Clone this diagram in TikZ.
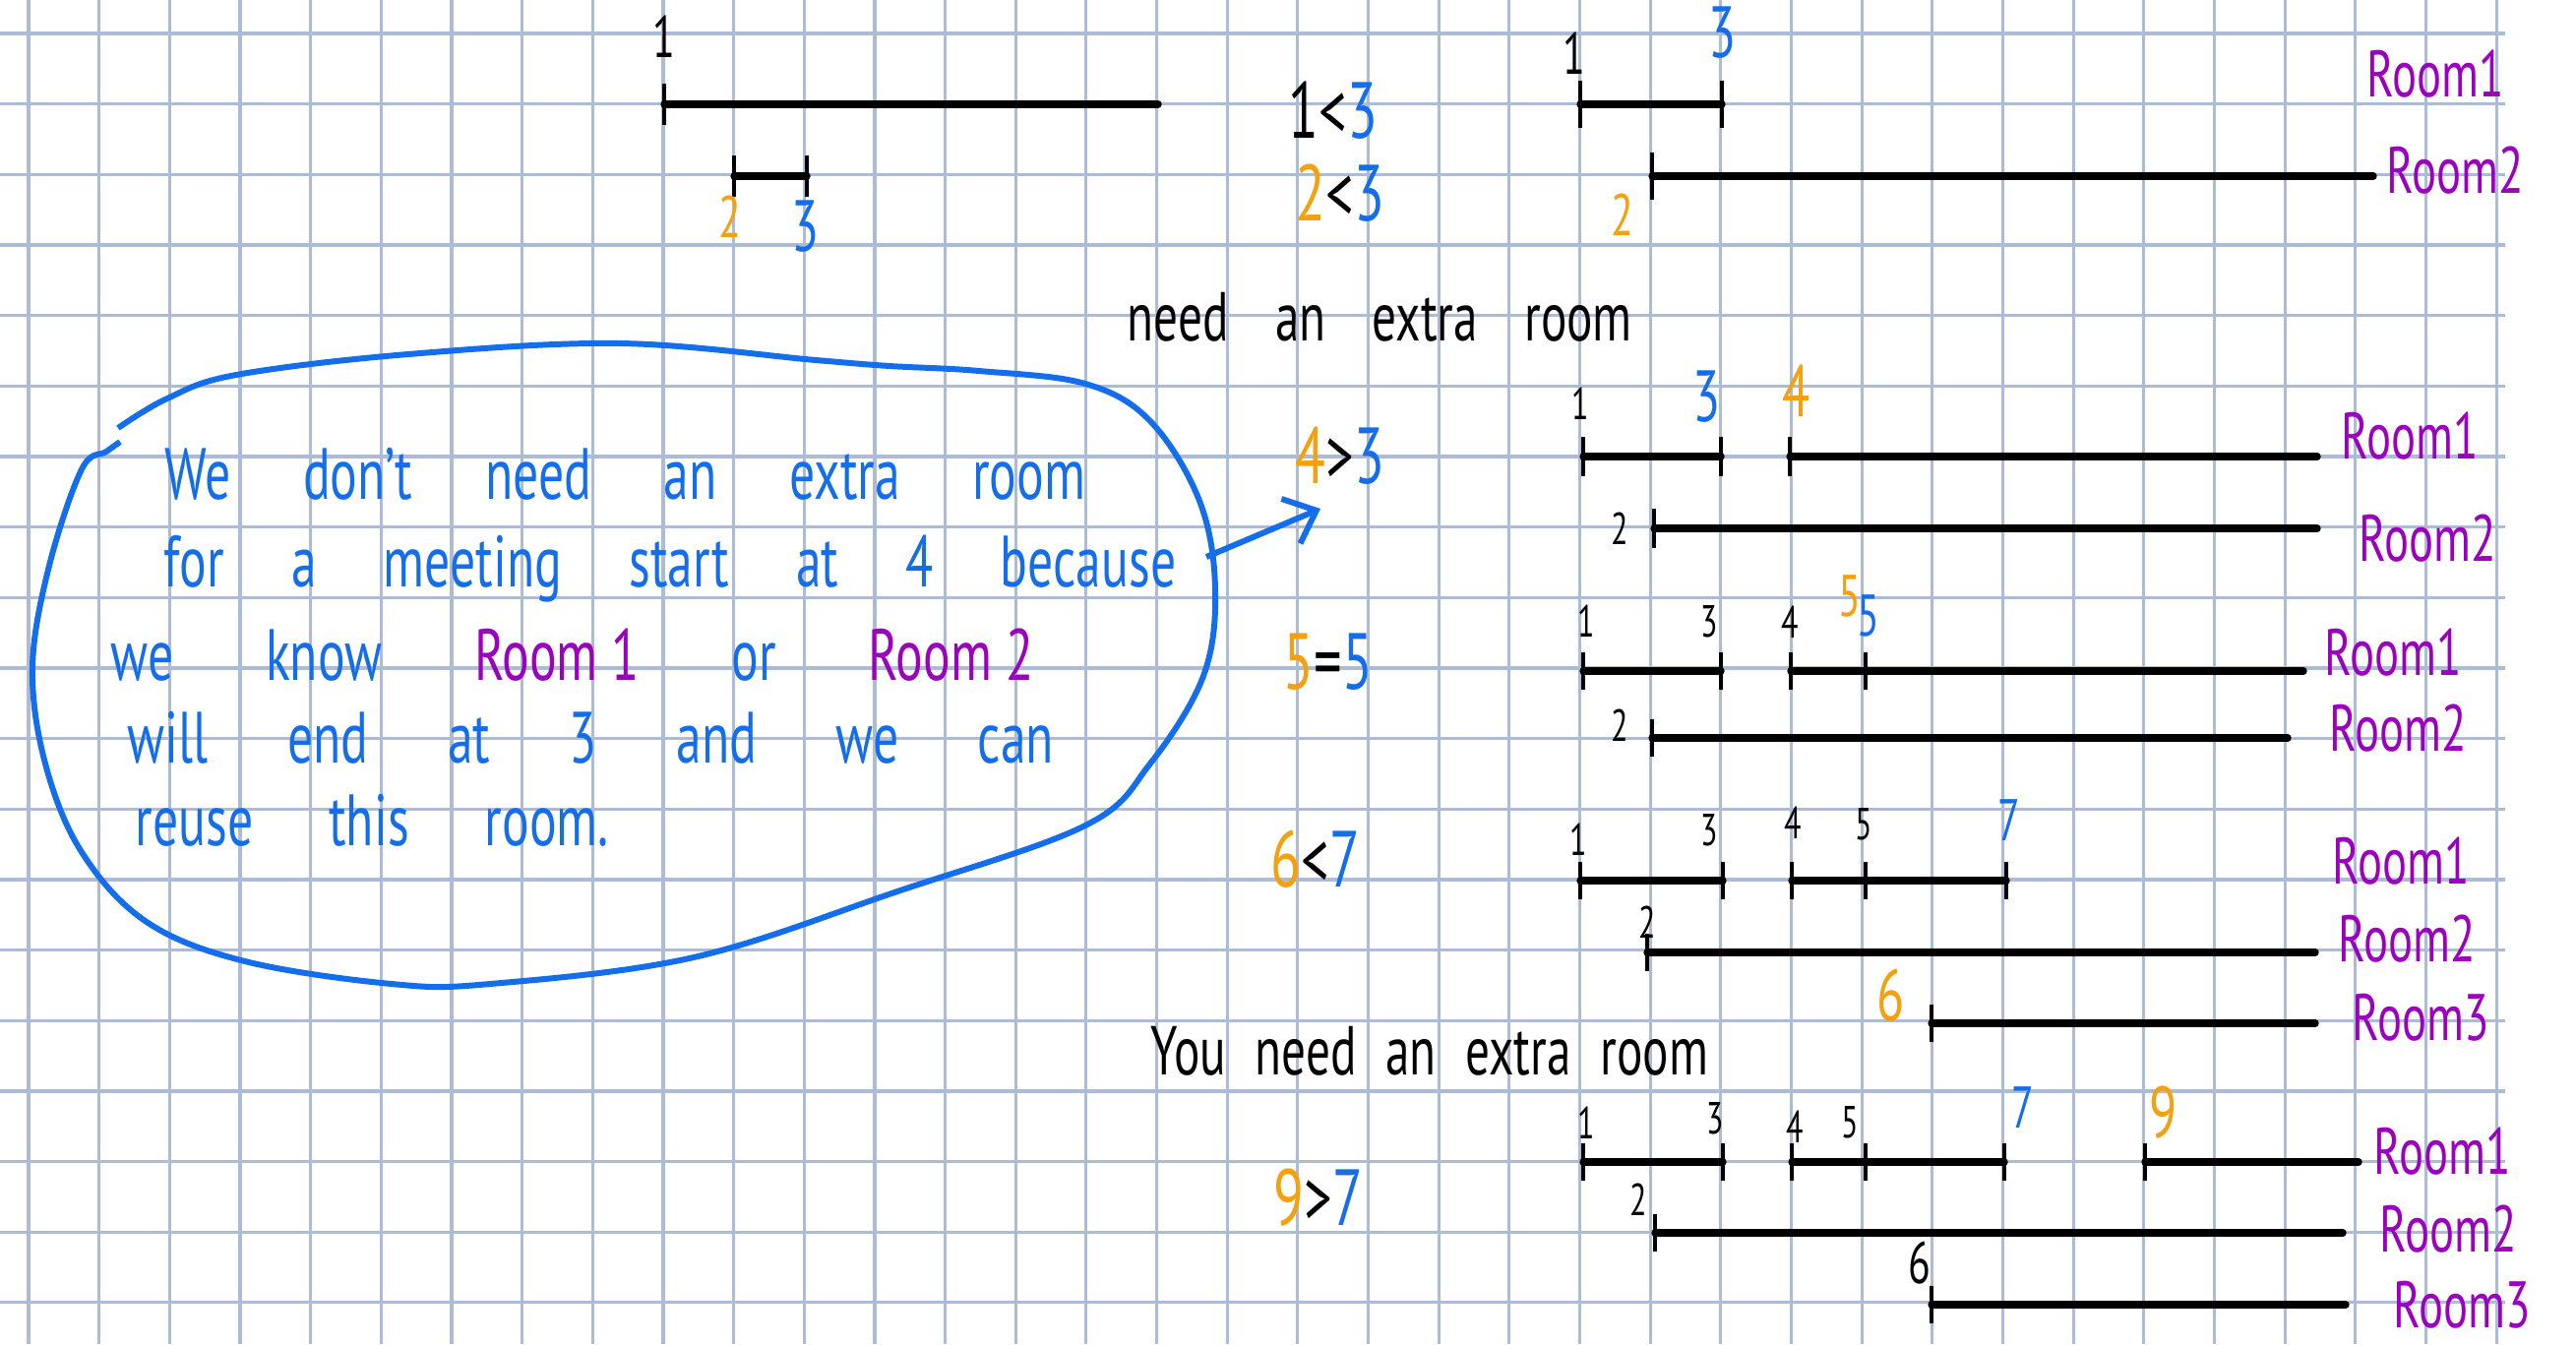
\documentclass[tikz,border=0pt]{standalone}
\usepackage{fontspec}
\setmainfont{PT Sans}[FakeStretch=0.7]
\usetikzlibrary{arrows.meta}

\definecolor{griglia}{RGB}{172,188,214}
\definecolor{blu}{RGB}{20,110,235}
\definecolor{arancio}{RGB}{245,160,15}
\definecolor{viola}{RGB}{155,0,190}

\tikzset{
  seg/.style={line width=2.1pt, line cap=round},
  tacca/.style={line width=1.2pt},
  piccolo/.style={font=\fontsize{13}{13}\selectfont},
  medio/.style={font=\fontsize{17}{17}\selectfont},
  grande/.style={font=\fontsize{21}{21}\selectfont},
  cifra/.style={inner sep=0pt, font=\fontsize{23}{23}\selectfont},
  stanza/.style={text=viola, font=\fontsize{19}{19}\selectfont},
  nota/.style={text=blu, anchor=west, inner sep=0pt, font=\fontsize{21}{21}\selectfont},
  scritta/.style={anchor=west, inner sep=0pt, font=\fontsize{20}{20}\selectfont},
  bolla/.style={draw=blu, line width=1.7pt},
  freccia/.style={draw=blu, line width=1.7pt, -{Straight Barb[length=8pt,width=14pt]}}
}

\begin{document}
\begin{tikzpicture}[x=0.01cm, y=-0.01cm]
        \useasboundingbox (0,0) rectangle (2618,1366);

        %%%%%%%%%% Griglia %%%%%%%%%%
        \foreach \i in {0,...,35}
            \draw[griglia, line width=0.9pt] ({29+71.66*\i},0) -- ({29+71.66*\i},1366);
        \foreach \j in {0,...,18}
            \draw[griglia, line width=0.9pt] (0,{34+71.66*\j}) -- (2546,{34+71.66*\j});

        %%%%%%%%%% Nota %%%%%%%%%%
        \draw[bolla] plot[smooth, tension=0.6] coordinates {(120,435) (170,405) (240,381) (415,360)
            (630,349) (829,366) (904,372) (995,377) (1103,390) (1169,428) (1219,509) (1235,598)
            (1223,687) (1169,776) (1103,839) (912,906) (705,973) (498,1000) (398,1000) (249,977)
            (149,937) (83,866) (46,776) (33,678) (50,575) (83,477) (108,459) (122,449)};
        \node[nota] (T1) at (167,482) {\makebox[9.35cm][s]{We don't need an extra room}};
        \node[nota] (T2) at (166,578) {\makebox[10.28cm][s]{for a meeting start at 4 because}};
        \node[nota] (T3) at (112,666) {\makebox[9.37cm][s]{we know \textcolor{viola}{\mbox{Room 1}} or \textcolor{viola}{\mbox{Room 2}}}};
        \node[nota] (T4) at (129,750) {\makebox[9.41cm][s]{will end at 3 and we can}};
        \node[nota] (T5) at (137,834) {\makebox[4.81cm][s]{reuse this room.}};
        \coordinate (bordo) at (1226,566);
        \coordinate (punta) at (1342,517);
        \draw[freccia] (bordo) -- (punta);

        %%%%%%%%%% Confronti %%%%%%%%%%
        \node[cifra] (C1) at (1355,112) {1<\textcolor{blu}{3}};
        \node[cifra] (C2) at (1362,196) {\textcolor{arancio}{2}<\textcolor{blu}{3}};
        \node[cifra] (C3) at (1362,463) {\textcolor{arancio}{4}>\textcolor{blu}{3}};
        \node[cifra] (C4) at (1350,673) {\textcolor{arancio}{5}=\textcolor{blu}{5}};
        \node[cifra] (C5) at (1337,873) {\textcolor{arancio}{6}<\textcolor{blu}{7}};
        \node[cifra] (C6) at (1340,1217) {\textcolor{arancio}{9}>\textcolor{blu}{7}};
        \node[scritta] (E1) at (1145,322) {\makebox[5.13cm][s]{need an extra room}};
        \node[scritta] (E2) at (1169,1068) {\makebox[5.66cm][s]{You need an extra room}};

        %%%%%%%%%% Intervalli: inizio %%%%%%%%%%
        \draw[seg] (675,106) -- (1177,106);
        \draw[seg] (746,179) -- (820,179);
        \foreach \x/\y in {675/106, 746/179, 820/179}
            \draw[tacca] (\x,\y) ++(0,-21) -- ++(0,42);
        \node[medio] (A1) at (675,37) {1};
        \node[medio, text=arancio] (A2) at (742,220) {2};
        \node[grande, text=blu] (A3) at (819,230) {3};

        %%%%%%%%%% Passo 1 %%%%%%%%%%
        \draw[seg] (1606,106) -- (1750,106);
        \draw[seg] (1679,179) -- (2412,179);
        \foreach \x/\y in {1606/106, 1750/106, 1679/179}
            \draw[tacca] (\x,\y) ++(0,-24) -- ++(0,48);
        \node[medio] (B1) at (1600,54) {1};
        \node[grande, text=blu] (B3) at (1751,33) {3};
        \node[medio, text=arancio] (B2) at (1649,218) {2};
        \node[stanza] (R11) at (2475,75) {Room1};
        \node[stanza] (R12) at (2495,173) {Room2};

        %%%%%%%%%% Passo 2 %%%%%%%%%%
        \draw[seg] (1609,464) -- (1749,464);
        \draw[seg] (1819,464) -- (2355,464);
        \draw[seg] (1681,537) -- (2355,537);
        \foreach \x/\y in {1609/464, 1749/464, 1819/464, 1681/537}
            \draw[tacca] (\x,\y) ++(0,-20) -- ++(0,40);
        \node[piccolo] (D1) at (1606,410) {1};
        \node[grande, text=blu] (D3) at (1735,403) {3};
        \node[grande, text=arancio] (D4) at (1826,397) {4};
        \node[piccolo] (D2) at (1646,537) {2};
        \node[stanza] (R21) at (2449,443) {Room1};
        \node[stanza] (R22) at (2467,547) {Room2};

        %%%%%%%%%% Passo 3 %%%%%%%%%%
        \draw[seg] (1609,682) -- (1749,682);
        \draw[seg] (1820,682) -- (2341,682);
        \draw[seg] (1679,750) -- (2325,750);
        \foreach \x/\y in {1609/682, 1749/682, 1820/682, 1896/682, 1679/750}
            \draw[tacca] (\x,\y) ++(0,-19) -- ++(0,38);
        \node[piccolo] (F1) at (1612,631) {1};
        \node[piccolo] (F3) at (1737,632) {3};
        \node[piccolo] (F4) at (1819,632) {4};
        \node[medio, text=arancio] (F5a) at (1880,606) {5};
        \node[medio, text=blu] (F5b) at (1899,626) {5};
        \node[piccolo] (F2) at (1646,737) {2};
        \node[stanza] (R31) at (2432,663) {Room1};
        \node[stanza] (R32) at (2437,740) {Room2};

        %%%%%%%%%% Passo 4 %%%%%%%%%%
        \draw[seg] (1606,895) -- (1751,895);
        \draw[seg] (1821,895) -- (2039,895);
        \draw[seg] (1674,968) -- (2353,968);
        \draw[seg] (1963,1040) -- (2353,1040);
        \foreach \x/\y in {1606/895, 1751/895, 1821/895, 1896/895, 2039/895, 1674/968, 1963/1040}
            \draw[tacca] (\x,\y) ++(0,-19) -- ++(0,38);
        \node[piccolo] (G1) at (1604,853) {1};
        \node[piccolo] (G3) at (1737,844) {3};
        \node[piccolo] (G4) at (1822,836) {4};
        \node[piccolo] (G5) at (1894,838) {5};
        \node[medio, text=blu] (G7) at (2042,834) {7};
        \node[piccolo] (G2) at (1674,937) {2};
        \node[grande, text=arancio] (G6) at (1922,1012) {6};
        \node[stanza] (R41) at (2440,875) {Room1};
        \node[stanza] (R42) at (2446,954) {Room2};
        \node[stanza] (R43) at (2460,1034) {Room3};

        %%%%%%%%%% Passo 5 %%%%%%%%%%
        \draw[seg] (1609,1181) -- (1751,1181);
        \draw[seg] (1821,1181) -- (2037,1181);
        \draw[seg] (2180,1181) -- (2397,1181);
        \draw[seg] (1682,1253) -- (2381,1253);
        \draw[seg] (1963,1326) -- (2384,1326);
        \foreach \x/\y in {1609/1181, 1751/1181, 1821/1181, 1896/1181, 2037/1181, 2180/1181, 1682/1253, 1963/1326}
            \draw[tacca] (\x,\y) ++(0,-19) -- ++(0,38);
        \node[piccolo] (H1) at (1612,1141) {1};
        \node[piccolo] (H3) at (1743,1137) {3};
        \node[piccolo] (H4) at (1824,1145) {4};
        \node[piccolo] (H5) at (1880,1141) {5};
        \node[medio, text=blu] (H7) at (2056,1126) {7};
        \node[grande, text=arancio] (H9) at (2199,1131) {9};
        \node[piccolo] (H2) at (1665,1219) {2};
        \node[medio] (H6) at (1951,1284) {6};
        \node[stanza] (R51) at (2482,1170) {Room1};
        \node[stanza] (R52) at (2488,1249) {Room2};
        \node[stanza] (R53) at (2502,1326) {Room3};
    \end{tikzpicture}
\end{document}
